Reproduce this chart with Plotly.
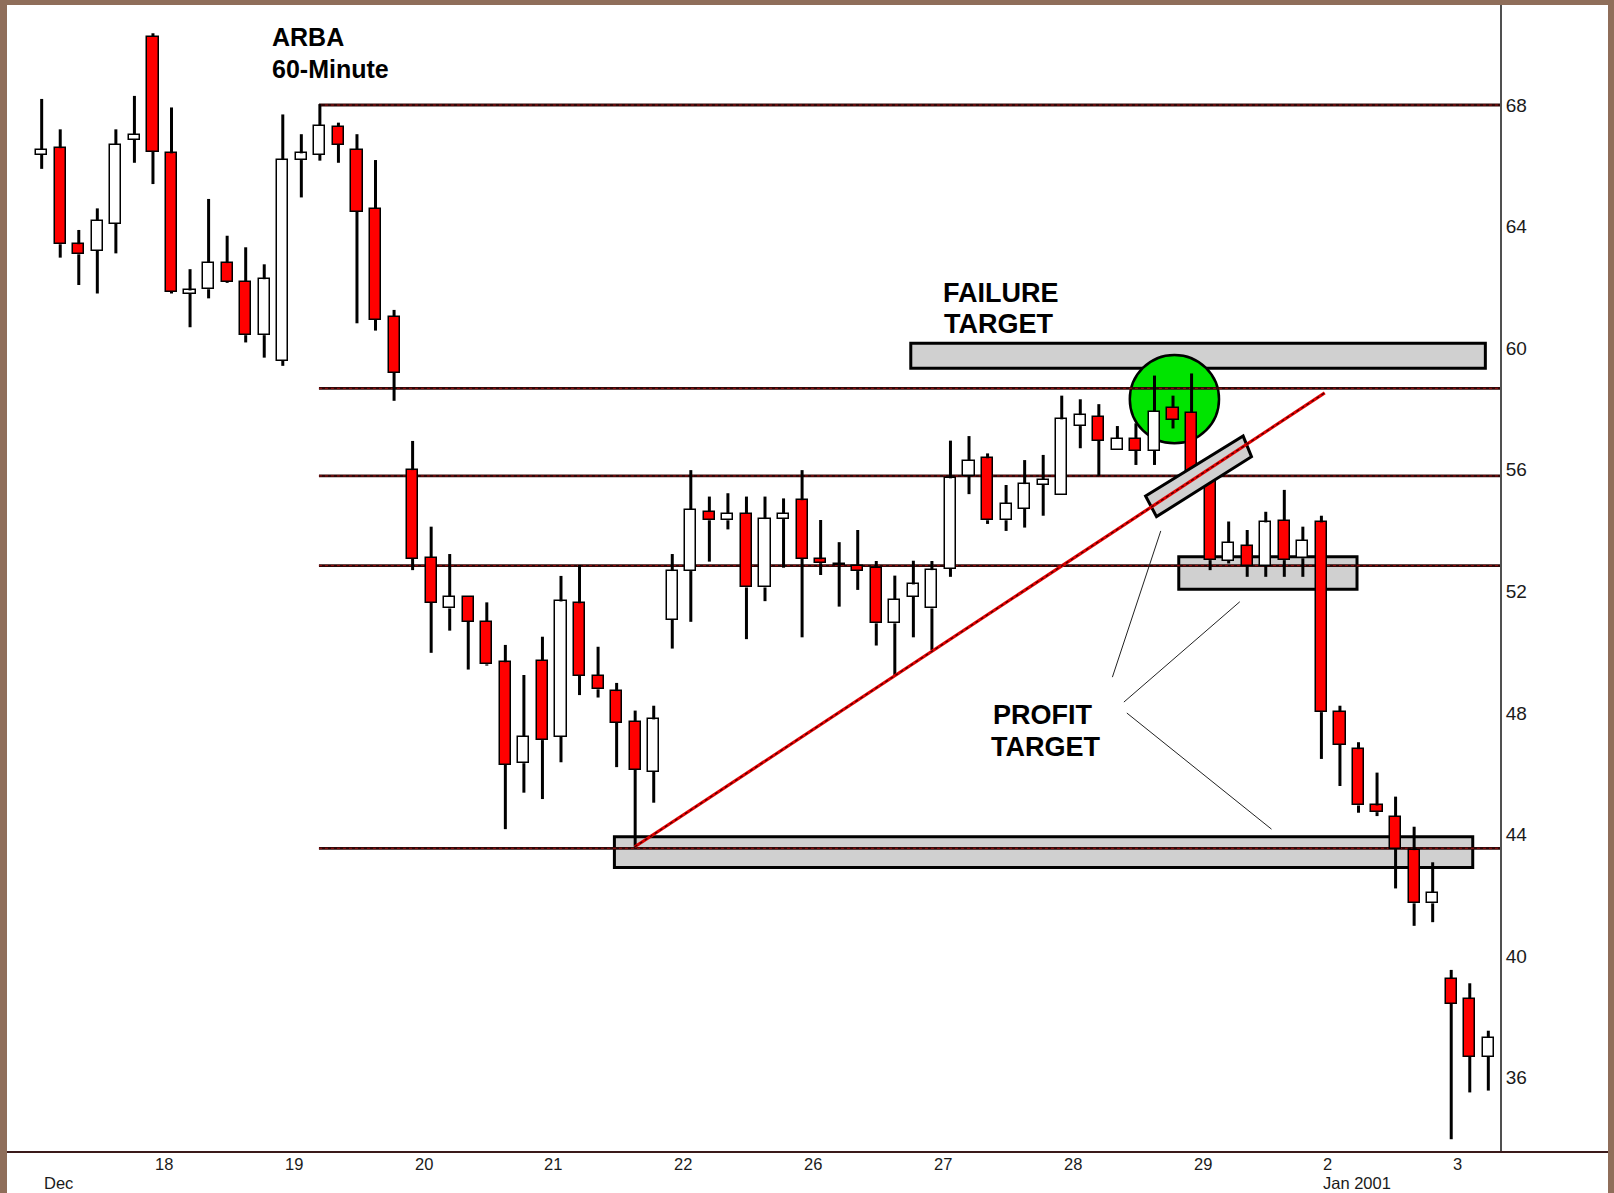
import plotly.graph_objects as go

# ---------------- data (hourly bars, ARBA 60-minute) ----------------
bar_open = [66.36, 66.58, 63.42, 63.21, 64.09, 66.85, 70.25, 66.41, 61.80, 61.94,
            62.80, 62.19, 60.43, 59.59, 66.19, 66.36, 67.29, 66.52, 64.58, 61.04,
            55.99, 53.11, 51.44, 51.83, 51.00, 49.67, 46.35, 49.72, 47.22, 51.61,
            49.23, 48.72, 47.72, 46.07, 51.06, 52.67, 54.61, 54.34, 54.55, 52.13,
            54.38, 55.00, 53.06, 52.90, 52.84, 52.78, 50.95, 51.83, 51.44, 52.74,
            55.80, 56.38, 54.34, 54.71, 55.50, 55.17, 57.44, 57.75, 56.65, 57.03,
            56.63, 58.05, 57.88, 56.00, 53.01, 53.49, 52.85, 54.33, 53.09, 54.27,
            48.03, 46.81, 44.96, 44.59, 43.49, 41.74, 39.25, 38.59, 36.70]
bar_high = [68.20, 67.20, 63.89, 64.60, 67.20, 68.30, 70.36, 67.92, 62.60, 64.91,
            63.70, 63.32, 62.76, 67.69, 67.04, 68.03, 67.42, 67.04, 66.19, 61.26,
            56.95, 54.13, 53.23, 51.83, 51.64, 50.24, 49.25, 50.51, 52.51, 52.87,
            50.18, 48.99, 48.08, 48.24, 53.23, 55.99, 55.12, 55.23, 55.12, 55.12,
            55.06, 55.99, 54.35, 53.62, 54.02, 53.00, 52.52, 53.01, 53.00, 56.96,
            57.11, 56.54, 55.50, 56.32, 56.49, 58.44, 58.32, 58.16, 57.44, 57.53,
            59.10, 58.44, 59.17, 56.30, 54.30, 54.02, 54.62, 55.34, 54.13, 54.49,
            48.24, 47.04, 46.04, 45.25, 44.26, 43.09, 39.55, 39.11, 37.55]
bar_low = [65.90, 62.98, 62.08, 61.80, 63.12, 66.10, 65.40, 61.80, 60.69, 61.64,
           62.15, 60.19, 59.69, 59.42, 64.96, 66.17, 66.10, 60.82, 60.58, 58.27,
           52.70, 49.98, 50.71, 49.43, 49.56, 44.18, 45.38, 45.17, 46.38, 48.59,
           48.51, 46.22, 43.60, 45.05, 50.12, 51.00, 52.98, 54.04, 50.43, 51.68,
           52.78, 50.49, 52.54, 51.50, 52.05, 50.22, 49.25, 50.49, 50.07, 52.48,
           55.20, 54.22, 53.99, 54.10, 54.49, 55.17, 56.71, 55.80, 56.65, 56.16,
           56.16, 57.36, 55.30, 52.70, 52.92, 52.48, 52.48, 52.48, 52.48, 46.49,
           45.60, 44.72, 44.61, 42.23, 41.00, 41.12, 33.98, 35.52, 35.58]
bar_close = [66.52, 63.42, 63.09, 64.20, 66.70, 67.03, 66.46, 61.86, 61.90, 62.81,
             62.19, 60.43, 62.27, 66.19, 66.41, 67.31, 66.70, 64.49, 60.93, 59.20,
             53.07, 51.63, 51.83, 51.00, 49.60, 46.29, 47.22, 47.11, 51.67, 49.22,
             48.78, 47.68, 46.13, 47.79, 52.67, 54.68, 54.34, 54.55, 52.13, 54.38,
             54.56, 53.07, 52.93, 52.86, 52.67, 50.95, 51.72, 52.23, 52.70, 55.72,
             56.30, 54.34, 54.88, 55.53, 55.67, 57.66, 57.80, 56.96, 57.03, 56.62,
             57.91, 57.64, 55.50, 53.03, 53.60, 52.85, 54.27, 53.03, 53.67, 48.03,
             46.95, 44.96, 44.74, 43.53, 41.74, 42.09, 38.43, 36.70, 37.32]

day_labels = ["18", "19", "20", "21", "22", "26", "27", "28", "29", "2", "3"]
day_first_bar = [6, 13, 20, 27, 34, 41, 48, 55, 62, 69, 76]
month_labels = ["Dec", "Jan 2001"]
month_first_bar = [0, 69]

price_ticks = [36, 40, 44, 48, 52, 56, 60, 64, 68]

level_prices = [68.0, 58.68, 55.8, 52.85, 43.55]
level_start_bar = 14.95

trend_x = [31.98, 69.18]
trend_y = [43.6, 58.53]

failure_zone = dict(x0=46.86, x1=77.84, y0=59.34, y1=60.16)
profit_zone_mid = dict(x0=61.31, x1=70.92, y0=52.07, y1=53.14)
profit_zone_low = dict(x0=30.88, x1=77.16, y0=42.92, y1=43.93)
circle_zone = dict(x0=58.67, x1=63.48, y0=56.87, y1=59.78)
break_box = [(59.52, 55.14), (60.11, 54.46), (65.23, 56.43), (64.78, 57.11)]
pointer_lines = [((60.34, 53.99), (57.73, 49.18)),
                 ((64.60, 51.66), (58.35, 48.36)),
                 ((58.51, 48.00), (66.31, 44.18))]

X_RANGE = [-1.87, 78.63]
Y_RANGE = [33.56, 71.29]

BROWN = "#8f6e5a"
RED = "#ff0000"
GREY = "#d0d0d0"
FONT = "Liberation Sans"

idx = list(range(len(bar_open)))

# ---------------- traces ----------------
body_base = [min(o, c) for o, c in zip(bar_open, bar_close)]
body_h = [max(abs(c - o), 0.05) for o, c in zip(bar_open, bar_close)]
body_col = ["#ffffff" if c >= o else RED for o, c in zip(bar_open, bar_close)]

wx, wy = [], []
for i, o, h, l, c in zip(idx, bar_open, bar_high, bar_low, bar_close):
    top, bot = max(o, c), min(o, c)
    if h > top:
        wx += [i, i, None]
        wy += [top, h, None]
    if l < bot:
        wx += [i, i, None]
        wy += [l, bot, None]

fig = go.Figure()
fig.add_trace(go.Bar(x=idx, y=body_h, base=body_base, width=0.6,
                     marker=dict(color=body_col, line=dict(color="#000000", width=1.5)),
                     hoverinfo="skip", showlegend=False))
fig.add_trace(go.Scatter(x=wx, y=wy, mode="lines",
                         line=dict(color="#000000", width=3),
                         hoverinfo="skip", showlegend=False))

# ---------------- shapes ----------------
shapes = []
# white chart panel over the brown frame
shapes.append(dict(type="rect", xref="paper", yref="paper", x0=0, x1=1.07234,
                   y0=-0.06, y1=1.0, fillcolor="#ffffff", line=dict(width=0), layer="below"))
for z in (failure_zone, profit_zone_mid, profit_zone_low):
    shapes.append(dict(type="rect", xref="x", yref="y", fillcolor=GREY,
                       line=dict(color="#000000", width=3), layer="below", **z))
shapes.append(dict(type="circle", xref="x", yref="y", fillcolor="#00e400",
                   line=dict(color="#000000", width=2.5), layer="below", **circle_zone))
for lv in level_prices:
    shapes.append(dict(type="line", xref="x", yref="y", x0=level_start_bar, x1=X_RANGE[1],
                       y0=lv, y1=lv, line=dict(color="#2e0808", width=2.8), layer="below"))
    shapes.append(dict(type="line", xref="x", yref="y", x0=level_start_bar, x1=X_RANGE[1],
                       y0=lv, y1=lv, line=dict(color="#9a1010", width=1, dash="dot"),
                       layer="below"))
path = "M" + " L".join(f"{a},{b}" for a, b in break_box) + " Z"
shapes.append(dict(type="path", xref="x", yref="y", path=path, fillcolor=GREY,
                   line=dict(color="#000000", width=3), layer="above"))
shapes.append(dict(type="line", xref="x", yref="y", x0=trend_x[0], y0=trend_y[0],
                   x1=trend_x[1], y1=trend_y[1], line=dict(color="#e00000", width=3.2),
                   layer="above"))
shapes.append(dict(type="line", xref="x", yref="y", x0=trend_x[0], y0=trend_y[0],
                   x1=trend_x[1], y1=trend_y[1],
                   line=dict(color="#400000", width=1.2, dash="dot"), layer="above"))
for (a, b) in pointer_lines:
    shapes.append(dict(type="line", xref="x", yref="y", x0=a[0], y0=a[1], x1=b[0], y1=b[1],
                       line=dict(color="#222222", width=1), layer="above"))
# bottom axis line spanning to the frame
shapes.append(dict(type="line", xref="paper", yref="paper", x0=0, x1=1.07234, y0=0, y1=0,
                   line=dict(color="#3a1a1a", width=2), layer="above"))

# ---------------- annotations ----------------
ann = []
def txt(x, y, s, size, xanchor="center", xref="x", yref="y", color="#000000", bold=False):
    ann.append(dict(x=x, y=y, xref=xref, yref=yref, text=s, showarrow=False,
                    xanchor=xanchor, yanchor="middle", borderpad=0,
                    font=dict(family=FONT, size=size, color=color,
                              weight="bold" if bold else "normal")))

txt(12.38, 70.23, "ARBA", 25, xanchor="left", bold=True)
txt(12.38, 69.18, "60-Minute", 25, xanchor="left", bold=True)
txt(51.75, 61.82, "FAILURE", 27, bold=True)
txt(51.57, 60.79, "TARGET", 27, bold=True)
txt(53.98, 47.93, "PROFIT", 27, bold=True)
txt(54.13, 46.89, "TARGET", 27, bold=True)
for lab, b in zip(day_labels, day_first_bar):
    txt(b + 0.05, -0.0105, lab, 16.5, xanchor="left", yref="paper", color="#1a1a1a")
for lab, b in zip(month_labels, month_first_bar):
    txt(b + 0.05, -0.0268, lab, 16.5, xanchor="left", yref="paper", color="#1a1a1a")

fig.update_layout(
    width=1614, height=1193,
    margin=dict(l=7, r=114, t=5, b=41, pad=0),
    paper_bgcolor=BROWN, plot_bgcolor="#ffffff",
    shapes=shapes, annotations=ann, showlegend=False, bargap=0,
    xaxis=dict(range=X_RANGE, showgrid=False, zeroline=False, showline=False,
               showticklabels=False, ticks="", fixedrange=True),
    yaxis=dict(range=Y_RANGE, side="right", tickvals=price_ticks,
               ticktext=[str(t) for t in price_ticks],
               showgrid=False, zeroline=False, showline=True, linecolor="#505050",
               linewidth=2, ticks="", tickfont=dict(family=FONT, size=19, color="#1a1a1a"),
               fixedrange=True),
)

fig.write_html("out.html", include_plotlyjs=True, config={"displayModeBar": False},
               post_script="document.body.style.margin='0px';document.body.style.overflow='hidden';")
